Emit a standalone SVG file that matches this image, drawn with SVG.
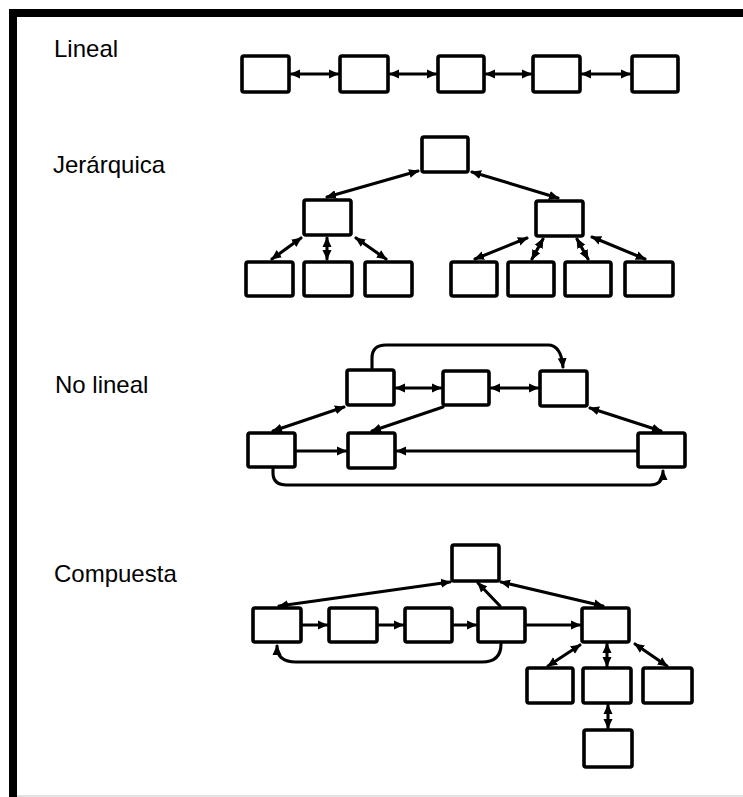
<svg xmlns="http://www.w3.org/2000/svg" width="743" height="797" viewBox="0 0 743 797">
<style>
.box{fill:#fff;stroke:#000;stroke-width:3.6}
.c{fill:none;stroke:#000;stroke-width:3.1;stroke-linecap:round}
.d{marker-start:url(#ah);marker-end:url(#ah)}
.e{marker-end:url(#ah)}
.lbl{font-family:"Liberation Sans",Arial,sans-serif;font-size:24px;fill:#000}
</style>
<defs>
<marker id="ah" viewBox="0 0 10 10" refX="9" refY="5" markerWidth="10" markerHeight="10" markerUnits="userSpaceOnUse" orient="auto-start-reverse">
<path d="M0,0.5 L10,5 L0,9.5 z" fill="#000"/>
</marker>
</defs>
<rect x="0" y="0" width="743" height="797" fill="#fff"/>
<g id="frame">
<rect x="9" y="9" width="734" height="8" fill="#000"/>
<rect x="9" y="9" width="8" height="788" fill="#000"/>
<line x1="17" y1="796" x2="743" y2="796" stroke="#d8d8d8" stroke-width="1.5"/>
</g>
<g id="labels">
<text class="lbl" x="54" y="57">Lineal</text>
<text class="lbl" x="53" y="173">Jerárquica</text>
<text class="lbl" x="55" y="393">No lineal</text>
<text class="lbl" x="54" y="582">Compuesta</text>
</g>
<g id="connectors">
<line class="c d" x1="291" y1="74" x2="338" y2="74"/>
<line class="c d" x1="390" y1="74" x2="436" y2="74"/>
<line class="c d" x1="486" y1="74" x2="531" y2="74"/>
<line class="c d" x1="582" y1="74" x2="630" y2="74"/>
<line class="c d" x1="418" y1="171" x2="327" y2="197"/>
<line class="c d" x1="472" y1="172" x2="558" y2="198"/>
<line class="c d" x1="301" y1="238" x2="272" y2="259"/>
<line class="c d" x1="327" y1="238" x2="327" y2="259"/>
<line class="c d" x1="356" y1="238" x2="386" y2="259"/>
<line class="c d" x1="527" y1="238" x2="475" y2="259"/>
<line class="c d" x1="543" y1="239" x2="532" y2="259"/>
<line class="c d" x1="577" y1="239" x2="588" y2="259"/>
<line class="c d" x1="592" y1="237" x2="645" y2="259"/>
<path class="c e" d="M372,368 V358 Q372,345 386,345 H548 Q561,345 563,367"/>
<line class="c d" x1="396" y1="388" x2="441" y2="388"/>
<line class="c d" x1="491" y1="388" x2="538" y2="388"/>
<line class="c d" x1="344" y1="407" x2="273" y2="431"/>
<line class="c e" x1="443" y1="407" x2="372" y2="431"/>
<line class="c d" x1="590" y1="408" x2="661" y2="431"/>
<line class="c e" x1="297" y1="451" x2="346" y2="451"/>
<line class="c e" x1="636" y1="451" x2="397" y2="451"/>
<path class="c e" d="M273,469 V473 Q273,485 287,485 H650 Q663,485 663,471"/>
<line class="c d" x1="450" y1="582" x2="279" y2="606"/>
<line class="c e" x1="500" y1="606" x2="478" y2="583"/>
<line class="c d" x1="501" y1="582" x2="603" y2="606"/>
<line class="c e" x1="303" y1="625" x2="327" y2="625"/>
<line class="c e" x1="379" y1="625" x2="403" y2="625"/>
<line class="c e" x1="454" y1="625" x2="476" y2="625"/>
<line class="c e" x1="527" y1="625" x2="580" y2="625"/>
<path class="c e" d="M501,644 Q501,662 482,662 H296 Q277,662 277,646"/>
<line class="c d" x1="580" y1="645" x2="548" y2="666"/>
<line class="c d" x1="607" y1="644" x2="607" y2="666"/>
<line class="c d" x1="635" y1="644" x2="667" y2="666"/>
<line class="c d" x1="608" y1="705" x2="608" y2="728"/>
</g>
<g id="lineal">
<rect id="l1" class="box" x="242" y="56" width="47" height="36" rx="2"/>
<rect id="l2" class="box" x="340" y="56" width="48" height="36" rx="2"/>
<rect id="l3" class="box" x="438" y="56" width="46" height="36" rx="2"/>
<rect id="l4" class="box" x="533" y="56" width="47" height="36" rx="2"/>
<rect id="l5" class="box" x="632" y="56" width="46" height="36" rx="2"/>
</g>
<g id="jerarquica">
<rect id="j0" class="box" x="422" y="137" width="46" height="35" rx="2"/>
<rect id="j1" class="box" x="304" y="200" width="47" height="35" rx="2"/>
<rect id="j2" class="box" x="536" y="201" width="47" height="35" rx="2"/>
<rect id="j3" class="box" x="246" y="262" width="47" height="34" rx="2"/>
<rect id="j4" class="box" x="304" y="262" width="48" height="34" rx="2"/>
<rect id="j5" class="box" x="365" y="262" width="47" height="34" rx="2"/>
<rect id="j6" class="box" x="451" y="262" width="46" height="34" rx="2"/>
<rect id="j7" class="box" x="508" y="262" width="46" height="34" rx="2"/>
<rect id="j8" class="box" x="565" y="262" width="46" height="34" rx="2"/>
<rect id="j9" class="box" x="625" y="262" width="48" height="34" rx="2"/>
</g>
<g id="nolineal">
<rect id="nA" class="box" x="347" y="370" width="47" height="35" rx="2"/>
<rect id="nB" class="box" x="443" y="371" width="46" height="34" rx="2"/>
<rect id="nC" class="box" x="540" y="371" width="47" height="35" rx="2"/>
<rect id="nD" class="box" x="248" y="433" width="47" height="34" rx="2"/>
<rect id="nE" class="box" x="348" y="433" width="47" height="35" rx="2"/>
<rect id="nF" class="box" x="638" y="433" width="47" height="34" rx="2"/>
</g>
<g id="compuesta">
<rect id="cT" class="box" x="452" y="545" width="47" height="36" rx="2"/>
<rect id="cR1" class="box" x="253" y="608" width="48" height="34" rx="2"/>
<rect id="cR2" class="box" x="329" y="608" width="48" height="34" rx="2"/>
<rect id="cR3" class="box" x="405" y="608" width="47" height="34" rx="2"/>
<rect id="cR4" class="box" x="478" y="608" width="47" height="34" rx="2"/>
<rect id="cR5" class="box" x="582" y="608" width="47" height="34" rx="2"/>
<rect id="cS1" class="box" x="527" y="668" width="46" height="35" rx="2"/>
<rect id="cS2" class="box" x="583" y="668" width="48" height="35" rx="2"/>
<rect id="cS3" class="box" x="643" y="668" width="49" height="35" rx="2"/>
<rect id="cS4" class="box" x="584" y="730" width="48" height="37" rx="2"/>
</g>
</svg>
